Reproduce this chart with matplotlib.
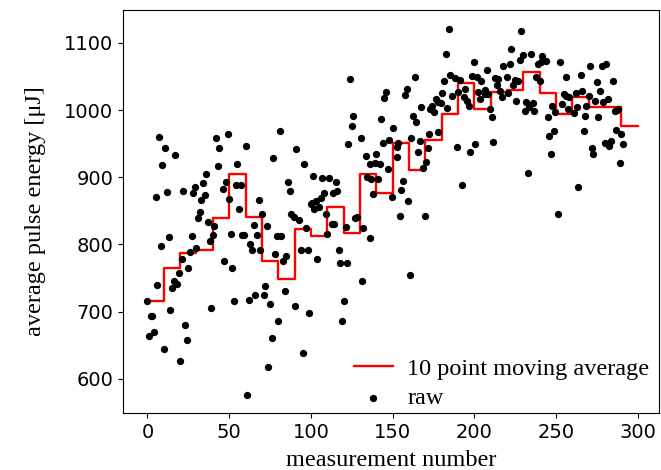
import matplotlib
matplotlib.use("Agg")
import matplotlib.pyplot as plt
import numpy as np

raw_x = [0, 1, 2, 3, 4, 5, 6, 7, 8, 9, 10, 11, 12, 13, 14, 15, 16, 17, 18, 19,
         20, 21, 22, 23, 24, 25, 26, 27, 28, 29, 30, 31, 32, 33, 34, 35, 36, 37, 38, 39,
         40, 41, 42, 43, 44, 46, 47, 48, 49,
         50, 51, 52, 53, 54, 55, 56, 57, 58, 59, 60, 61, 62, 63, 64, 65, 66, 67, 68, 69,
         70, 71, 72, 73, 74, 75, 76, 77, 78, 79, 80, 81, 82, 83, 84, 85, 86, 87, 88,
         89.5, 90.5, 91, 93, 94, 95, 96, 97, 98, 99, 100, 101,
         100.6, 102, 103, 104, 105, 106, 107, 108, 109, 110, 111, 113, 113.5, 114, 115.5,
         116, 117, 118, 119, 120, 121.6, 122, 123, 124, 125, 126, 127, 128, 130.5, 131,
         132, 133.6, 134.6, 136, 136.4, 137, 138, 139, 140, 141, 142.5, 143, 144, 145, 146,
         147.4, 148, 149.5, 150, 152.5, 152.5,
         153.5, 154.4, 155.3, 156.4, 157.6, 158.6, 159.4, 160.5, 161.3, 162.5, 163.5, 164.5,
         165.5, 166.6, 167.6, 168.4, 169.6, 170.6, 171.7, 172.5, 173, 174.3, 175.5, 176.4,
         177.6, 178, 179.6, 180.4, 181.6, 182.5, 183.5, 184.5, 185, 186.5, 188, 189.6, 190,
         191, 192.6, 193.5, 194.5, 195.6, 196.7, 197.5, 198.5, 199.6, 200.6, 201.6, 202.4,
         203.6, 204,
         206.3, 206.3, 207.5, 208.3, 209.7, 210.8, 211.6, 212.8, 213.6, 214.6, 215.6, 216.7,
         217.7, 219.7, 220.7, 221.6, 222.6, 223.4, 224.6, 225.6, 226.8, 227.7, 228.7, 229.5,
         230.7, 231.5, 232.7, 233.5, 234.6, 235.6, 236.6, 237.6, 239, 240, 240.7, 241.7,
         243.7, 244.8, 245.8, 246.8, 247.6, 248.6, 249.4, 250.9, 252.7, 253.7, 254.7, 255.8,
         256, 257.2,
         258, 260.8, 262, 262.9, 263.7, 265, 266, 266.8, 268, 268.6, 270, 270.8, 271.8, 272.8,
         273.7, 275, 275.7, 277, 278, 278.7, 279.8, 280.8, 281.8, 282.6, 283.9, 285, 286,
         286.7, 287, 288, 289, 290, 291]
raw_y = [715, 664, 693, 693, 670, 870, 739, 960, 798, 918, 644, 943, 878, 811, 702, 735, 745, 933, 741, 758,
         627, 778, 879, 680, 658, 765, 789, 812, 877, 885, 794, 840, 849, 866, 892, 874, 905, 833, 805, 706,
         814, 827, 958, 917, 943, 882, 775, 893, 964,
         867, 815, 765, 716, 889, 919, 852, 889, 814, 814, 946, 576, 717, 801, 792, 829, 724, 814, 866, 792,
         845, 724, 738, 828, 617, 712, 661, 928, 786, 813, 686, 969, 813, 776, 730, 783, 893, 880, 845,
         841, 708, 942, 836, 791, 639, 919, 825, 791, 698, 860, 902,
         861, 853, 865, 778, 856, 869, 899, 877, 845, 815, 899, 830, 876, 830, 893,
         880, 791, 773, 686, 716, 826, 773, 950, 1046, 977, 991, 840, 841, 958, 746,
         824, 932, 901, 920, 810, 898, 875, 921, 935, 898, 920, 986, 951, 1018, 1027,
         913, 956, 870, 973, 945, 930,
         951, 842, 881, 894, 1023, 1031, 864, 755, 959, 991, 1050, 982,
         937, 954, 1005, 914, 843, 923, 943, 964, 1001, 1006, 997, 1016,
         968, 1012, 1011, 1026, 1043, 1083, 1003, 1120, 1052, 1021, 1048, 945, 1027,
         1045, 888, 1020, 1031, 1013, 1006, 938, 1051, 1072, 949, 1049, 1027,
         1017, 1043,
         1030, 1024, 1059, 1024, 1001, 989, 953, 1048, 1037, 1047, 1029, 1019,
         1065, 1050, 1025, 1069, 1091, 1037, 1045, 1013, 1044, 1074, 1118, 1082,
         999, 1012, 907, 1004, 1084, 1011, 999, 1049, 1069, 1044, 1071, 1081,
         1073, 989, 961, 935, 1006, 969, 997, 846, 1071, 1009, 1024, 1050,
         1021, 1001,
         1019, 996, 1025, 1004, 886, 1052, 1029, 969, 991, 1006, 1021, 1066, 943, 935,
         1014, 1042, 990, 1028, 1066, 1012, 951, 1069, 1017, 946, 954, 1044, 998,
         971, 1000, 1001, 921, 964, 949]

# 10 point moving average (one value per block of 10 measurements)
avg_x = [0, 10, 20, 30, 40, 50, 60, 70, 80, 90, 100, 110, 120, 130, 140,
         150, 160, 170, 180, 190, 200, 210, 220, 230, 240, 250, 260, 270, 280, 290, 300]
avg_y = [715, 765, 787, 791, 839, 905, 841, 775, 749, 823, 813, 856, 817, 905, 876,
         951, 911, 956, 994, 1040, 1002, 1027, 1030, 1057, 1026, 994, 1020, 1005, 1005, 977, 977]

fig = plt.figure(figsize=(6.61, 4.70), dpi=100)
ax = fig.add_axes([0.186, 0.1213, 0.811, 0.8574])

ax.step(avg_x, avg_y, where='post', color='red', linewidth=1.7,
        label='10 point moving average')
ax.scatter(raw_x, raw_y, s=18, color='black', label='raw', zorder=3)

ax.set_xlim(-15, 313)
ax.set_ylim(549, 1149)
ax.set_xticks([0, 50, 100, 150, 200, 250, 300])
ax.set_yticks([600, 700, 800, 900, 1000, 1100])
ax.tick_params(labelsize=14)

serif = ['Liberation Serif', 'DejaVu Serif']
ax.set_xlabel('measurement number', fontsize=17.5, family=serif, labelpad=6)
ax.set_ylabel('average pulse energy [μJ]', fontsize=17.5, family=serif, labelpad=13)

ax.legend(loc='lower right', bbox_to_anchor=(1.0, -0.015), frameon=False,
          prop={'family': serif, 'size': 17.5},
          handlelength=1.6, handletextpad=0.6, labelspacing=0.3, borderaxespad=0.0)

fig.savefig('out.png', dpi=100)
